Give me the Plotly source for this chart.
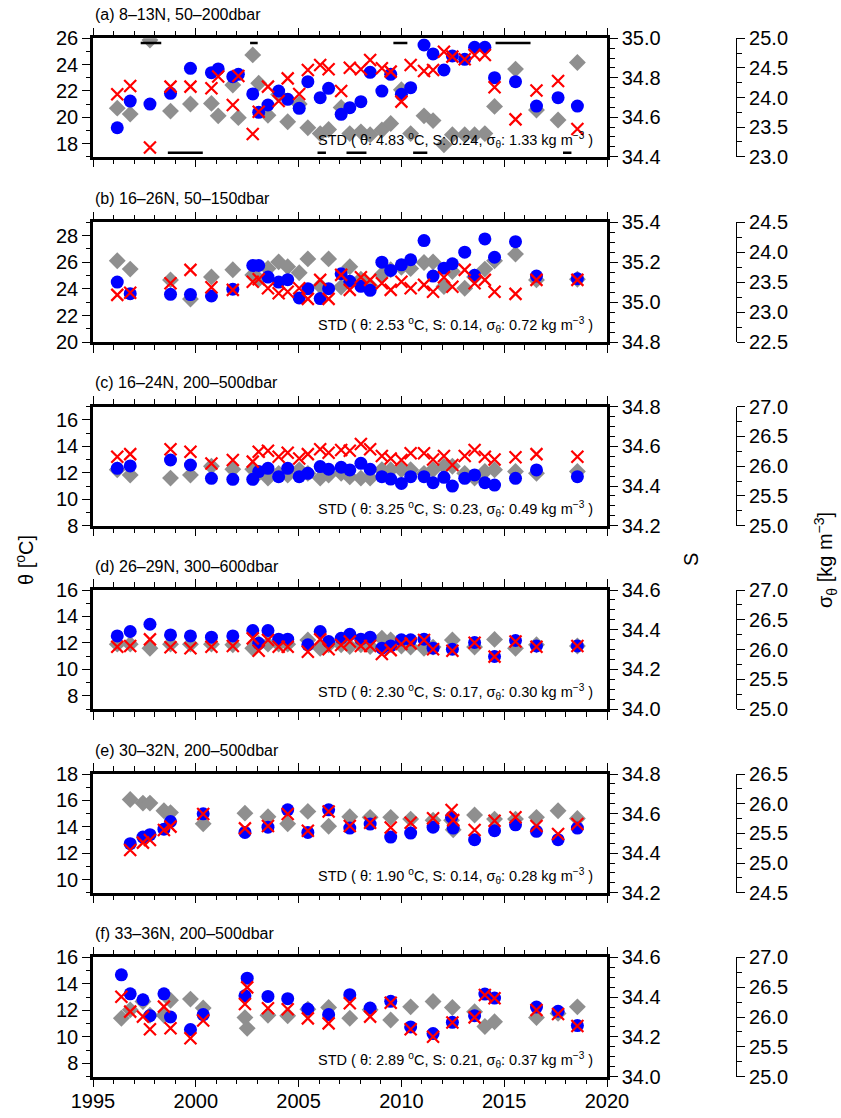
import plotly.graph_objects as go

# ---------------- data ----------------
years_a = [1996.18, 1996.81, 1997.77, 1998.77, 1999.74, 2000.76, 2001.09, 2001.80, 2002.07, 2002.77,
           2003.06, 2003.51, 2004.03, 2004.47, 2005.03, 2005.45, 2006.05, 2006.46, 2007.07, 2007.49,
           2008.03, 2008.48, 2009.05, 2009.48, 2010.00, 2010.45, 2011.10, 2011.54, 2012.07, 2012.48,
           2013.08, 2013.56, 2014.06, 2014.53, 2015.55, 2016.57, 2017.62, 2018.56]
theta_a = [19.20, 21.23, 21.00, 21.82, 23.72, 23.39, 23.67, 23.08, 23.26, 21.77,
           20.37, 20.93, 21.99, 21.36, 20.68, 22.70, 21.49, 22.20, 20.22, 20.73,
           21.18, 23.41, 21.99, 23.26, 21.74, 22.25, 25.49, 24.81, 23.59, 24.66,
           24.40, 25.32, 25.32, 23.01, 22.70, 20.85, 21.49, 20.85]
sal_a = [34.716, 34.758, 34.447, 34.755, 34.755, 34.747, 34.806, 34.662, 34.809, 34.515,
         34.628, 34.755, 34.682, 34.797, 34.718, 34.839, 34.865, 34.843, 34.733, 34.851,
         34.843, 34.890, 34.848, 34.831, 34.679, 34.865, 34.834, 34.839, 34.932, 34.907,
         34.894, 34.915, 34.915, 34.752, 34.589, 34.735, 34.784, 34.540]
sig_a = [23.82, 23.72, 24.97, 23.77, 23.89, 23.90, 23.69, 24.21, 23.66, 24.72,
         24.24, 23.70, 24.05, 23.59, 23.89, 23.49, 23.39, 23.46, 23.83, 23.39,
         23.42, 23.37, 23.45, 23.56, 24.13, 23.39, 23.69, 23.61, 23.20, 23.37,
         23.37, 23.37, 23.39, 23.85, 24.48, 23.79, 23.62, 24.59]

years_b = [1996.18, 1996.81, 1998.77, 1999.74, 2000.76, 2001.80, 2002.77, 2003.06, 2003.51, 2004.03,
           2004.47, 2005.03, 2005.45, 2006.05, 2006.46, 2007.07, 2007.49, 2008.03, 2008.48, 2009.05,
           2009.48, 2010.00, 2010.45, 2011.10, 2011.54, 2012.07, 2012.48, 2013.08, 2013.56, 2014.06,
           2014.53, 2015.55, 2016.57, 2018.56]
theta_b = [24.52, 23.65, 23.60, 23.58, 23.48, 23.98, 25.76, 25.76, 24.89, 24.52,
           24.70, 23.33, 24.02, 23.28, 24.02, 25.14, 24.57, 24.20, 23.90, 26.01,
           25.39, 25.81, 26.19, 27.63, 24.97, 25.56, 25.89, 26.76, 25.02, 27.75,
           26.38, 27.55, 24.97, 24.77]
sal_b = [35.037, 35.048, 35.095, 35.162, 35.075, 35.062, 35.103, 35.115, 35.070, 35.045,
         35.053, 35.070, 35.017, 35.112, 35.017, 35.137, 35.062, 35.125, 35.112, 35.095,
         35.062, 35.103, 35.070, 35.087, 35.053, 35.125, 35.078, 35.162, 35.095, 35.112,
         35.053, 35.042, 35.112, 35.112]
sig_b = [23.86, 23.72, 23.54, 23.22, 23.59, 23.71, 23.62, 23.55, 23.73, 23.84,
         23.76, 23.66, 23.89, 23.44, 23.89, 23.42, 23.76, 23.55, 23.44, 23.63,
         23.71, 23.75, 23.73, 23.83, 23.84, 23.43, 23.68, 23.40, 23.59, 23.72,
         23.86, 23.97, 23.54, 23.55]

years_c = list(years_b)
theta_c = [12.34, 12.52, 12.97, 12.59, 11.58, 11.51, 11.51, 12.09, 12.34, 11.71,
           12.34, 11.71, 11.96, 12.47, 12.27, 12.42, 12.22, 12.72, 12.27, 11.71,
           11.53, 11.20, 11.71, 11.71, 11.25, 11.66, 11.00, 11.58, 11.84, 11.25,
           11.07, 11.58, 12.22, 11.71]
sal_c = [34.548, 34.561, 34.585, 34.573, 34.514, 34.531, 34.523, 34.573, 34.578, 34.548,
         34.568, 34.539, 34.561, 34.585, 34.568, 34.582, 34.578, 34.612, 34.585, 34.551,
         34.539, 34.531, 34.565, 34.565, 34.534, 34.551, 34.506, 34.551, 34.582, 34.548,
         34.534, 34.545, 34.561, 34.548]
sig_c = [25.94, 25.85, 25.80, 25.85, 26.00, 25.95, 25.95, 25.88, 25.80, 25.88,
         25.85, 25.94, 25.88, 25.80, 25.85, 25.88, 25.82, 25.80, 25.80, 25.94,
         25.94, 25.94, 25.94, 25.88, 25.94, 26.00, 26.00, 25.88, 25.80, 25.91,
         25.94, 25.91, 25.88, 25.91]

years_d = [1996.18, 1996.81, 1997.77, 1998.77, 1999.74, 2000.76, 2001.80, 2002.77, 2003.06, 2003.51,
           2004.03, 2004.47, 2005.45, 2006.05, 2006.46, 2007.07, 2007.49, 2008.03, 2008.48, 2009.05,
           2009.48, 2010.00, 2010.45, 2011.10, 2011.54, 2012.48, 2013.56, 2014.53, 2015.55, 2016.57,
           2018.56]
theta_d = [12.53, 12.86, 13.41, 12.60, 12.53, 12.43, 12.53, 12.93, 11.97, 12.93,
           12.28, 12.28, 11.85, 12.86, 12.10, 12.35, 12.65, 12.28, 12.43, 11.60,
           11.77, 12.23, 12.23, 12.28, 11.60, 11.52, 12.03, 10.97, 12.18, 11.77,
           11.77]
sal_d = [34.314, 34.318, 34.351, 34.311, 34.306, 34.314, 34.318, 34.356, 34.294, 34.348,
         34.314, 34.314, 34.289, 34.351, 34.301, 34.323, 34.340, 34.318, 34.318, 34.277,
         34.297, 34.328, 34.331, 34.348, 34.301, 34.294, 34.334, 34.264, 34.340, 34.314,
         34.318]
sig_d = [26.09, 26.09, 26.02, 26.09, 26.09, 26.09, 26.08, 26.02, 26.10, 26.09,
         26.09, 26.09, 26.16, 26.02, 26.08, 26.08, 26.05, 26.08, 26.05, 26.19,
         26.16, 26.06, 26.04, 26.02, 26.04, 26.16, 26.04, 26.17, 26.02, 26.08,
         26.06]

years_e = [1996.81, 1997.43, 1997.77, 1998.45, 1998.77, 2000.36, 2002.39, 2003.51, 2004.47, 2005.45,
           2006.46, 2007.49, 2008.48, 2009.48, 2010.45, 2011.54, 2012.44, 2012.52, 2013.56, 2014.53,
           2015.55, 2016.57, 2017.62, 2018.56]
theta_e = [12.72, 13.22, 13.40, 13.82, 14.40, 14.98, 13.57, 13.97, 15.28, 13.57,
           15.28, 13.90, 14.20, 13.22, 13.52, 13.97, 14.72, 13.90, 13.02, 13.70,
           14.15, 13.65, 13.02, 13.90]
sal_e = [34.416, 34.453, 34.466, 34.517, 34.534, 34.598, 34.525, 34.537, 34.598, 34.513,
         34.610, 34.537, 34.554, 34.530, 34.554, 34.576, 34.618, 34.567, 34.517, 34.564,
         34.581, 34.537, 34.497, 34.547]
sig_e = [26.07, 26.01, 26.01, 25.88, 25.85, 25.66, 25.84, 25.78, 25.66, 25.87,
         25.62, 25.78, 25.77, 25.77, 25.74, 25.72, 25.72, 25.56, 25.81, 25.74,
         25.74, 25.77, 25.88, 25.75]

years_f = [1996.38, 1996.81, 1997.43, 1997.77, 1998.45, 1998.77, 1999.74, 2000.36, 2002.39, 2002.50,
           2003.51, 2004.47, 2005.45, 2006.46, 2007.49, 2008.48, 2009.48, 2010.45, 2011.54, 2012.48,
           2013.56, 2014.06, 2014.53, 2016.57, 2017.62, 2018.56]
theta_f = [14.68, 13.25, 12.80, 11.60, 13.25, 11.50, 10.55, 11.68, 13.10, 14.43,
           13.05, 12.88, 12.10, 11.68, 13.18, 12.18, 12.68, 10.75, 10.25, 11.10,
           11.60, 13.23, 12.93, 12.25, 11.93, 10.85]
sal_f = [34.402, 34.327, 34.302, 34.238, 34.352, 34.243, 34.193, 34.282, 34.365, 34.449,
         34.344, 34.339, 34.293, 34.268, 34.369, 34.302, 34.372, 34.238, 34.201, 34.272,
         34.298, 34.411, 34.394, 34.335, 34.315, 34.255]
sig_f = [25.98, 26.12, 26.26, 26.03, 26.03, 26.28, 26.30, 26.15, 25.99, 25.81,
         26.03, 26.02, 26.13, 26.16, 25.98, 26.12, 25.95, 26.17, 26.26, 26.16,
         26.09, 25.84, 25.92, 25.99, 26.06, 26.17]

# warm / cold event bars shown in panel (a)
warm_start = [1997.32, 2002.64, 2009.61, 2014.58]
warm_end = [1998.32, 2003.01, 2010.29, 2016.28]
cold_start = [1998.64, 2005.92, 2007.33, 2010.57, 2017.86]
cold_end = [2000.34, 2006.33, 2008.30, 2011.26, 2018.27]
warm_level = 25.65
cold_level = 17.3

titles = ["(a) 8–13N, 50–200dbar", "(b) 16–26N, 50–150dbar", "(c) 16–24N, 200–500dbar",
          "(d) 26–29N, 300–600dbar", "(e) 30–32N, 200–500dbar", "(f) 33–36N, 200–500dbar"]
std_theta = ["4.83", "2.53", "3.25", "2.30", "1.90", "2.89"]
std_sal = ["0.24", "0.14", "0.23", "0.17", "0.14", "0.21"]
std_sig = ["1.33", "0.72", "0.49", "0.30", "0.28", "0.37"]
theta_ranges = [[17, 26], [20, 29], [8, 17], [7, 16], [9, 18], [7, 16]]
sal_ranges = [[34.4, 35.0], [34.8, 35.4], [34.2, 34.8], [34.0, 34.6], [34.2, 34.8], [34.0, 34.6]]
sig_ranges = [[23.0, 25.0], [22.5, 24.5], [25.0, 27.0], [25.0, 27.0], [24.5, 26.5], [25.0, 27.0]]
year_range = [1995, 2020]

years_all = [years_a, years_b, years_c, years_d, years_e, years_f]
theta_all = [theta_a, theta_b, theta_c, theta_d, theta_e, theta_f]
sal_all = [sal_a, sal_b, sal_c, sal_d, sal_e, sal_f]
sig_all = [sig_a, sig_b, sig_c, sig_d, sig_e, sig_f]

# ---------------- layout ----------------
W, H = 841, 1118
ML = 93
PW = W - ML
x_end = (607 - ML) / PW
sig_pos = (736 - ML) / PW
frames_px = [(38.3, 156.7), (222.3, 342.3), (406.7, 525.7), (590, 709), (774, 892.7), (957.3, 1076.7)]

FONT = "Liberation Sans, Arial, Helvetica, sans-serif"
TICKF = dict(family=FONT, size=20, color="black")
BLUE = "#0000ff"
RED = "#ff0000"
GREY = "#8f8f8f"

def yname(n):
    return "y" if n == 1 else f"y{n}"

def ykey(n):
    return "yaxis" if n == 1 else f"yaxis{n}"

fig = go.Figure()
layout = dict(width=W, height=H, margin=dict(l=ML, r=0, t=0, b=0),
              paper_bgcolor="white", plot_bgcolor="white", showlegend=False,
              font=dict(family=FONT, color="black"))
annotations = []

common_y = dict(showgrid=False, zeroline=False, ticks="outside", ticklen=8, tickwidth=1,
                tickcolor="black", tickfont=TICKF, automargin=False)

for i in range(6):
    xa = "x" if i == 0 else f"x{i+1}"
    xk = "xaxis" if i == 0 else f"xaxis{i+1}"
    s_id, t_id, a_id = 3 * i + 1, 3 * i + 2, 3 * i + 3
    top, bot = frames_px[i]
    dom = [1 - bot / H, 1 - top / H]
    hpx = bot - top

    layout[xk] = dict(domain=[0, x_end], anchor=yname(s_id), range=year_range,
                      tick0=1995, dtick=5, ticks="outside", ticklen=8, tickwidth=1,
                      tickcolor="black", minor=dict(dtick=1, ticks="outside", ticklen=5,
                                                   tickwidth=1, tickcolor="black"),
                      showline=True, linewidth=2.5, linecolor="black", mirror="ticks",
                      showticklabels=(i == 5), tickfont=TICKF, ticklabelstandoff=-3,
                      showgrid=False, zeroline=False, automargin=False)
    # sigma-theta (base axis, free, far right)
    layout[ykey(s_id)] = dict(common_y, domain=dom, anchor="free", position=sig_pos,
                              side="right", range=sig_ranges[i], dtick=0.5,
                              tick0=sig_ranges[i][0], tickformat=".1f",
                              minor=dict(dtick=0.25, ticks="outside", ticklen=5,
                                         tickcolor="black"),
                              showline=True, linewidth=1.2, linecolor="black")
    # theta (left)
    layout[ykey(t_id)] = dict(common_y, overlaying=yname(s_id), anchor=xa, side="left",
                              range=theta_ranges[i], dtick=2, tick0=0,
                              minor=dict(dtick=1, ticks="outside", ticklen=4,
                                         tickcolor="black"),
                              showline=True, linewidth=2.5, linecolor="black")
    # salinity (right of frame)
    layout[ykey(a_id)] = dict(common_y, overlaying=yname(s_id), anchor=xa, side="right",
                              range=sal_ranges[i], dtick=0.2, tick0=34.0, tickformat=".1f",
                              minor=dict(dtick=0.05, ticks="outside", ticklen=5,
                                         tickcolor="black"),
                              showline=True, linewidth=2.5, linecolor="black")

    fig.add_trace(go.Scatter(x=years_all[i], y=sig_all[i], xaxis=xa, yaxis=yname(s_id),
                             mode="markers", name="sigma",
                             marker=dict(symbol="diamond", size=13, color=GREY,
                                         line=dict(width=0))))
    fig.add_trace(go.Scatter(x=years_all[i], y=theta_all[i], xaxis=xa, yaxis=yname(t_id),
                             mode="markers", name="theta",
                             marker=dict(symbol="circle", size=13, color=BLUE,
                                         line=dict(width=0))))
    if i == 0:
        bx, by = [], []
        for a0, a1 in zip(warm_start, warm_end):
            bx += [a0, a1, None]
            by += [warm_level, warm_level, None]
        for a0, a1 in zip(cold_start, cold_end):
            bx += [a0, a1, None]
            by += [cold_level, cold_level, None]
        fig.add_trace(go.Scatter(x=bx, y=by, xaxis=xa, yaxis=yname(t_id), mode="lines",
                                 line=dict(color="black", width=2.5), name="events"))
    fig.add_trace(go.Scatter(x=years_all[i], y=sal_all[i], xaxis=xa, yaxis=yname(a_id),
                             mode="markers", name="S",
                             marker=dict(symbol="x-thin", size=12, color=RED,
                                         line=dict(width=2.2, color=RED))))

    annotations.append(dict(text=titles[i], xref=f"{xa} domain", yref=f"{yname(s_id)} domain",
                            x=0, y=1 + 24 / hpx, xanchor="left", yanchor="middle", xshift=0,
                            showarrow=False, font=dict(family=FONT, size=16, color="black")))
    std_txt = (f"STD ( θ: {std_theta[i]} <sup>o</sup>C, S: {std_sal[i]}, "
               f"σ<sub>θ</sub>: {std_sig[i]} kg m<sup>−3</sup> )")
    annotations.append(dict(text=std_txt, xref=f"{xa} domain", yref=f"{yname(s_id)} domain",
                            x=0.977, y=17 / hpx, xanchor="right", yanchor="middle",
                            showarrow=False, font=dict(family=FONT, size=14.5, color="black")))

mid_y = 1 - 560 / H
annotations.append(dict(text="θ [<sup>o</sup>C]", xref="paper", yref="paper",
                        x=(24 - ML) / PW, y=mid_y, textangle=-90, showarrow=False,
                        xanchor="center", yanchor="middle",
                        font=dict(family=FONT, size=20, color="black")))
annotations.append(dict(text="S", xref="paper", yref="paper",
                        x=(691 - ML) / PW, y=mid_y, textangle=-90, showarrow=False,
                        xanchor="center", yanchor="middle",
                        font=dict(family=FONT, size=20, color="black")))
annotations.append(dict(text="σ<sub>θ</sub> [kg m<sup>−3</sup>]", xref="paper", yref="paper",
                        x=(825 - ML) / PW, y=mid_y, textangle=-90, showarrow=False,
                        xanchor="center", yanchor="middle",
                        font=dict(family=FONT, size=20, color="black")))

layout["annotations"] = annotations
fig.update_layout(**layout)
fig.write_html("out.html", config={"displayModeBar": False},
               post_script="document.body.style.margin='0px';document.body.style.overflow='hidden';")
